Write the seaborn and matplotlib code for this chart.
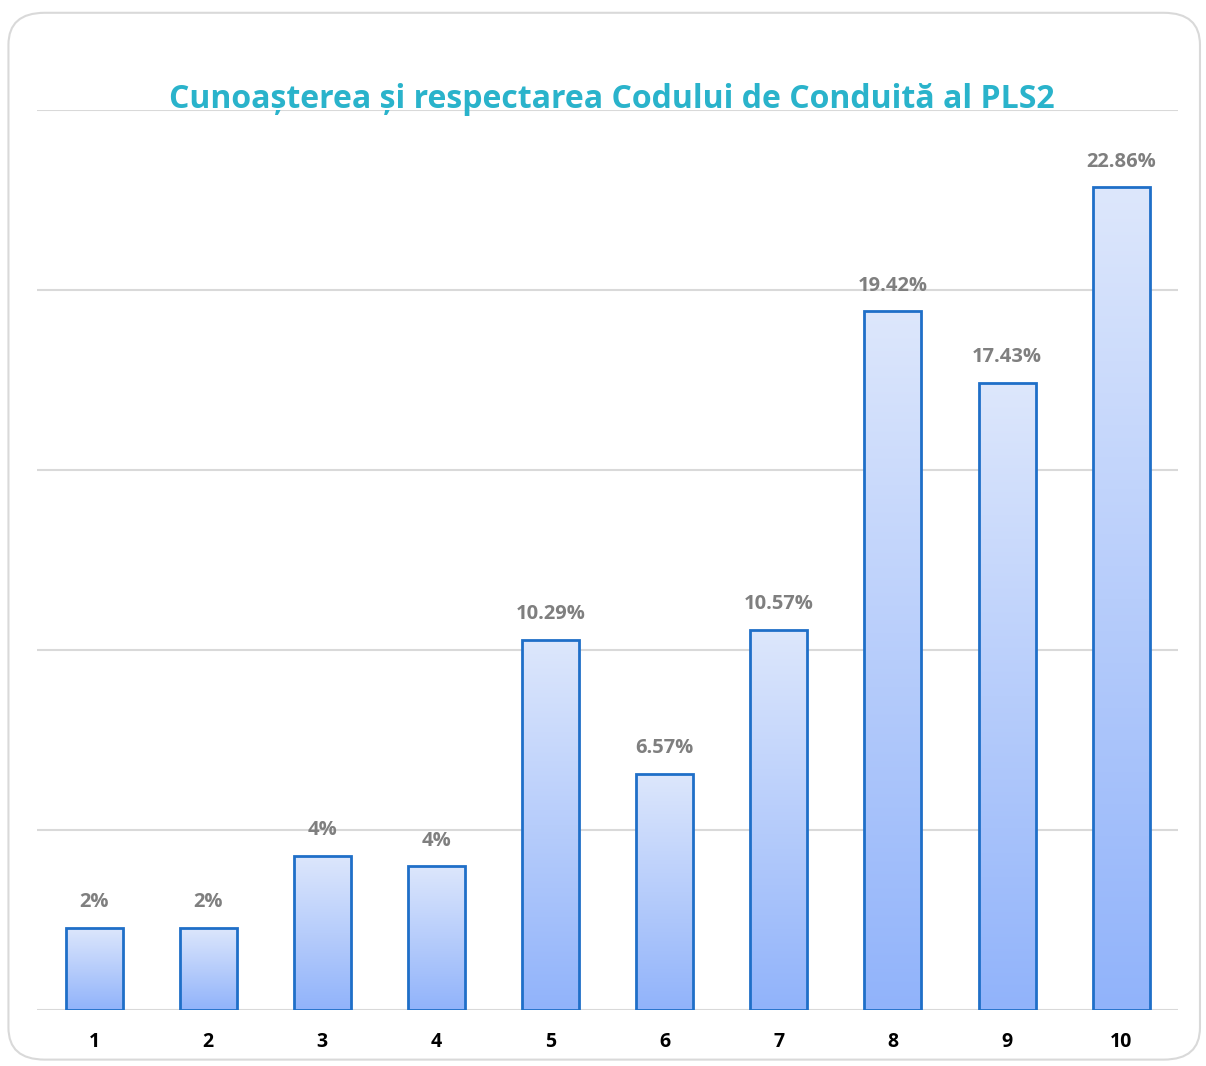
import numpy as np
import pandas as pd
import matplotlib
matplotlib.use("Agg")
import matplotlib.pyplot as plt
from matplotlib.patches import FancyBboxPatch
from matplotlib.colors import LinearSegmentedColormap
import seaborn as sns

categories = ["1", "2", "3", "4", "5", "6", "7", "8", "9", "10"]
values = [2.29, 2.29, 4.29, 4.0, 10.29, 6.57, 10.57, 19.42, 17.43, 22.86]
value_labels = ["2%", "2%", "4%", "4%", "10.29%", "6.57%", "10.57%", "19.42%", "17.43%", "22.86%"]
title = "Cunoașterea și respectarea Codului de Conduită al PLS2"

sns.set_theme(style="white")
plt.rcParams['font.family'] = ['Open Sans', 'DejaVu Sans']

fig = plt.figure(figsize=(12.06, 10.66), dpi=100)
fig.patch.set_facecolor("white")

# rounded outer border
border = FancyBboxPatch((0.007, 0.006), 0.988, 0.982,
                        boxstyle="round,pad=0,rounding_size=0.03",
                        transform=fig.transFigure, facecolor="none",
                        edgecolor="#D9D9D9", linewidth=1.5, zorder=-1)
fig.patches.append(border)

ax = fig.add_axes([0.0307, 0.0525, 0.9463, 0.8443])
ax.set_facecolor("none")

df = pd.DataFrame({"cat": categories, "val": values})
sns.barplot(data=df, x="cat", y="val", ax=ax, width=0.5,
            color="#BFD3FA", edgecolor="#1F6FC8", linewidth=2, zorder=3)

ax.set_xlim(-0.5, len(categories) - 0.5)
ax.set_ylim(0, 25)
ax.set_yticks([0, 5, 10, 15, 20, 25])
ax.yaxis.grid(True, color="#D9D9D9", linewidth=1.5)
ax.set_axisbelow(True)
ax.tick_params(axis="y", left=False, labelleft=False)
ax.tick_params(axis="x", bottom=False, pad=10)
for s in ax.spines.values():
    s.set_visible(False)
ax.set_xlabel("")
ax.set_ylabel("")
for lbl in ax.get_xticklabels():
    lbl.set_fontweight("bold")
    lbl.set_fontsize(14)
    lbl.set_color("black")

# gradient fill inside each bar
cmap = LinearSegmentedColormap.from_list("g", ["#91B3FA", "#DDE7FC"])
grad = np.linspace(0, 1, 256).reshape(-1, 1)
bars = list(ax.patches)
for p in bars:
    x0, y0 = p.get_x(), p.get_y()
    w, h = p.get_width(), p.get_height()
    im = ax.imshow(grad, extent=(x0, x0 + w, y0, y0 + h), origin="lower",
                   cmap=cmap, aspect="auto", zorder=3.5)
    im.set_clip_path(p)
    p.set_facecolor("none")
    p.set_zorder(4)

for p, lab in zip(bars, value_labels):
    ax.annotate(lab, (p.get_x() + p.get_width() / 2, p.get_height()),
                xytext=(0, 11), textcoords="offset points", ha="center",
                va="bottom", fontsize=14.5, fontweight="bold", color="#7F7F7F")

ax.set_xlim(-0.5, len(categories) - 0.5)
ax.set_ylim(0, 25)

fig.text(0.507, 0.899, title, ha="center", va="baseline", fontsize=23,
         fontweight="bold", color="#2AB3CB")

fig.savefig("out.png", dpi=100)
